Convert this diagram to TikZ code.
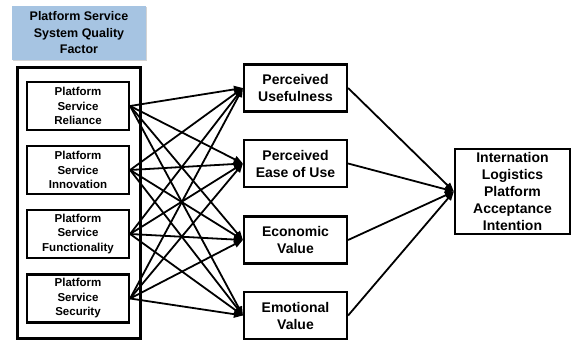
\documentclass[tikz,border=0pt]{standalone}
\usepackage{fontspec}
\setmainfont{Liberation Sans}
\usetikzlibrary{arrows.meta,shadows}
\definecolor{titleblue}{RGB}{166,196,226}
\begin{document}
\begin{tikzpicture}[x=1pt,y=-1pt,
  box/.style={draw,line width=2.2pt,align=center,inner sep=0pt,font=\bfseries},
  inbox/.style={box,minimum width=102pt,minimum height=48pt,font=\bfseries\fontsize{11.5}{14.5}\selectfont},
  midbox/.style={box,minimum width=103pt,minimum height=47pt,font=\bfseries\fontsize{14}{17}\selectfont},
  conn/.style={line width=1.8pt,-{Triangle[length=9pt,width=7pt]}}]
\useasboundingbox (0,0) rectangle (572,342);
\node[fill=titleblue,minimum width=134pt,minimum height=54pt,align=center,inner sep=0pt,
  font=\bfseries\fontsize{12.5}{16.5}\selectfont,
  drop shadow={shadow xshift=1pt,shadow yshift=-1pt,opacity=0.35}] (title) at (79,33)
  {Platform Service\\System Quality\\Factor};
\node[draw,line width=3pt,minimum width=123pt,minimum height=270pt,inner sep=0pt] (outer) at (78.5,203) {};
\node[inbox] (r) at (78,106) {Platform\\Service\\Reliance};
\node[inbox] (i) at (78,170) {Platform\\Service\\Innovation};
\node[inbox] (f) at (78,234) {Platform\\Service\\Functionality};
\node[inbox] (s) at (78,298.5) {Platform\\Service\\Security};
\node[midbox] (pu) at (295.5,88) {Perceived\\Usefulness};
\node[midbox] (pe) at (295.5,163.5) {Perceived\\Ease of Use};
\node[midbox] (ec) at (295.5,240) {Economic\\Value};
\node[midbox] (em) at (295.5,315.5) {Emotional\\Value};
\node[box,minimum width=115pt,minimum height=85pt,font=\bfseries\fontsize{14}{17}\selectfont] (ai) at (512.5,191.5)
  {Internation\\Logistics\\Platform\\Acceptance\\Intention};
\foreach \a in {r,i,f,s}{
  \foreach \b in {pu,pe,ec,em}{
    \draw[conn] (\a.east) -- (\b.west);
  }
}
\foreach \b in {pu,pe,ec,em}{
  \draw[conn] (\b.east) -- (ai.west);
}
\end{tikzpicture}
\end{document}
